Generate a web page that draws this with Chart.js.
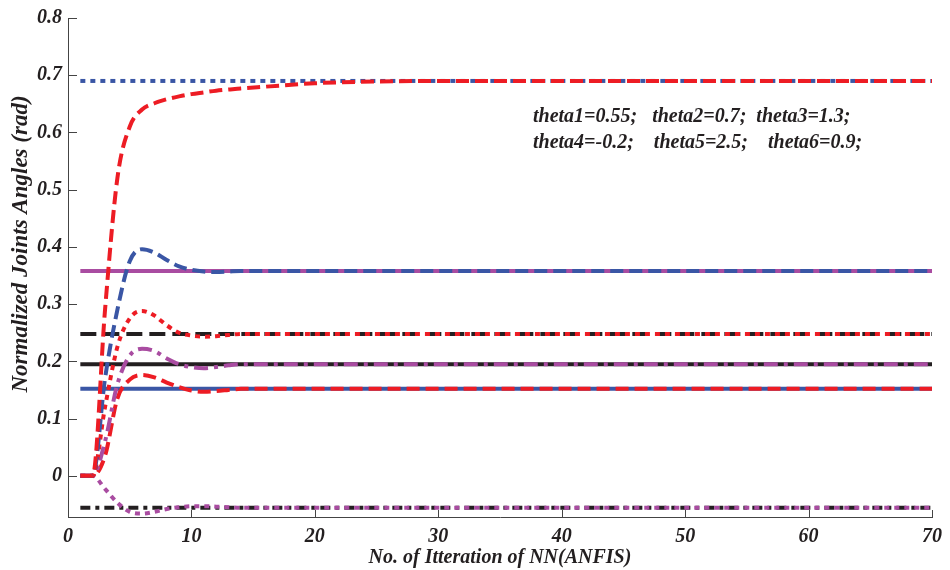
<!DOCTYPE html>
<html>
<head>
<meta charset="utf-8">
<script src="https://cdn.jsdelivr.net/npm/chart.js@4"></script>
<style>
  html, body { margin: 0; padding: 0; background: #fff; }
  #wrap { width: 950px; height: 570px; }
</style>
</head>
<body>
<div id="wrap"><canvas id="joints"></canvas></div>
<script>
// iterations at which the responses were sampled
const iterations = [1, 2, 3, 4, 5, 6, 7, 8, 9, 10, 11, 12, 13, 14, 16, 20, 25, 30, 70];

// ANFIS responses
const resp1 = [0, 0, 0.29, 0.52, 0.61, 0.640, 0.651, 0.658, 0.663, 0.667, 0.670, 0.673, 0.675, 0.677, 0.680, 0.686, 0.689, 0.690, 0.690];
const resp2 = [0, 0, 0.17, 0.29, 0.375, 0.396, 0.390, 0.377, 0.366, 0.360, 0.357, 0.356, 0.357, 0.358, 0.358, 0.358, 0.358, 0.358, 0.358];
const resp3 = [0, 0, 0.12, 0.225, 0.275, 0.288, 0.280, 0.263, 0.250, 0.245, 0.243, 0.244, 0.246, 0.248, 0.248, 0.248, 0.248, 0.248, 0.248];
const resp4 = [0, 0, 0.06, 0.16, 0.21, 0.222, 0.218, 0.205, 0.195, 0.190, 0.188, 0.190, 0.193, 0.195, 0.195, 0.195, 0.195, 0.195, 0.195];
const resp5 = [0, 0, 0.035, 0.135, 0.168, 0.176, 0.172, 0.163, 0.155, 0.149, 0.147, 0.148, 0.150, 0.152, 0.152, 0.152, 0.152, 0.152, 0.152];
const resp6 = [0, 0, -0.023, -0.047, -0.063, -0.066, -0.063, -0.058, -0.055, -0.053, -0.053, -0.054, -0.055, -0.056, -0.056, -0.056, -0.056, -0.056, -0.056];

// desired (normalized) joint angles
const targetRange = [1, 70];
const targets = [0.69, 0.358, 0.248, 0.195, 0.152, -0.056];

const xTicks = [0, 10, 20, 30, 40, 50, 60, 70];
const yTicks = [0, 0.1, 0.2, 0.3, 0.4, 0.5, 0.6, 0.7, 0.8];

const noteLines = [
  'theta1=0.55;   theta2=0.7;  theta3=1.3;',
  'theta4=-0.2;    theta5=2.5;    theta6=0.9;'
];
const yTitle = 'Normalized Joints Angles (rad)';

const RED = '#ed1c24', BLUE = '#3a56a5', MAG = '#a94ca1', BLK = '#231f20';
const fontFam = '"Liberation Serif", "Times New Roman", serif';

const pts = arr => arr.map((v, i) => ({ x: iterations[i], y: v }));
const flat = v => targetRange.map(x => ({ x, y: v }));

function resp(data, color, dash) {
  return {
    data: pts(data), borderColor: color, borderWidth: 4, borderDash: dash,
    pointRadius: 0, fill: false, cubicInterpolationMode: 'monotone', order: 1
  };
}
function target(v, color, dash) {
  return {
    data: flat(v), borderColor: color, borderWidth: 4, borderDash: dash,
    pointRadius: 0, fill: false, order: 2
  };
}

const datasets = [
  resp(resp1, RED, [13, 6]),
  resp(resp2, BLUE, [13, 6]),
  resp(resp3, RED, [5, 5]),
  resp(resp4, MAG, [14, 6, 4, 6]),
  resp(resp5, RED, [13, 6]),
  resp(resp6, MAG, [5, 5]),
  target(targets[0], BLUE, [5, 5]),
  target(targets[1], MAG, []),
  target(targets[2], BLK, [16, 7]),
  target(targets[3], BLK, []),
  target(targets[4], BLUE, []),
  target(targets[5], BLK, [10, 5, 4, 5])
];

// inward tick marks, the rotated y title and the theta note
const decorations = {
  id: 'decorations',
  afterDraw(chart) {
    const { ctx, chartArea: a, scales: { x, y } } = chart;
    ctx.save();
    ctx.strokeStyle = '#444';
    ctx.lineWidth = 1;
    ctx.beginPath();
    xTicks.forEach(v => {
      const px = Math.round(x.getPixelForValue(v)) + 0.5;
      ctx.moveTo(px, a.bottom);
      ctx.lineTo(px, a.bottom - 7);
    });
    yTicks.forEach(v => {
      const py = Math.round(y.getPixelForValue(v)) + 0.5;
      ctx.moveTo(a.left, py);
      ctx.lineTo(a.left + 9, py);
    });
    ctx.stroke();

    ctx.fillStyle = BLK;
    ctx.textBaseline = 'middle';
    ctx.font = 'italic bold 20px ' + fontFam;
    ctx.textAlign = 'left';
    noteLines.forEach((t, i) => ctx.fillText(t, a.left + 465, a.top + 99 + i * 26));

    ctx.font = 'italic bold 23px ' + fontFam;
    ctx.textAlign = 'center';
    ctx.translate(21, 244);
    ctx.rotate(-Math.PI / 2);
    ctx.fillText(yTitle, 0, 0);
    ctx.restore();
  }
};

const tickFont = { family: fontFam, size: 20, style: 'italic', weight: 'bold' };
const titleFont = { family: fontFam, size: 20, style: 'italic', weight: 'bold' };

new Chart(document.getElementById('joints'), {
  type: 'line',
  data: { datasets },
  options: {
    responsive: true,
    maintainAspectRatio: false,
    animation: false,
    layout: { padding: { top: 16, right: 11, left: 0, bottom: 0 } },
    plugins: { legend: { display: false }, tooltip: { enabled: false } },
    scales: {
      x: {
        type: 'linear', min: 0, max: 70,
        grid: { display: false, drawTicks: false },
        border: { display: true, color: '#444', width: 1 },
        afterBuildTicks: s => { s.ticks = xTicks.map(v => ({ value: v })); },
        afterFit: s => { s.height = 53; },
        ticks: { font: tickFont, color: BLK, padding: 8, maxRotation: 0 },
        title: { display: true, text: 'No. of Itteration of NN(ANFIS)', font: titleFont, color: BLK, padding: { top: 0, bottom: 0 } }
      },
      y: {
        min: -0.072, max: 0.8,
        grid: { display: false, drawTicks: false },
        border: { display: true, color: '#444', width: 1 },
        afterBuildTicks: s => { s.ticks = yTicks.map(v => ({ value: v })); },
        afterFit: s => { s.width = 68; },
        ticks: { font: tickFont, color: BLK, padding: 6, callback: v => (v === 0 ? '0' : v.toFixed(1)) }
      }
    }
  },
  plugins: [decorations]
});
</script>
</body>
</html>
